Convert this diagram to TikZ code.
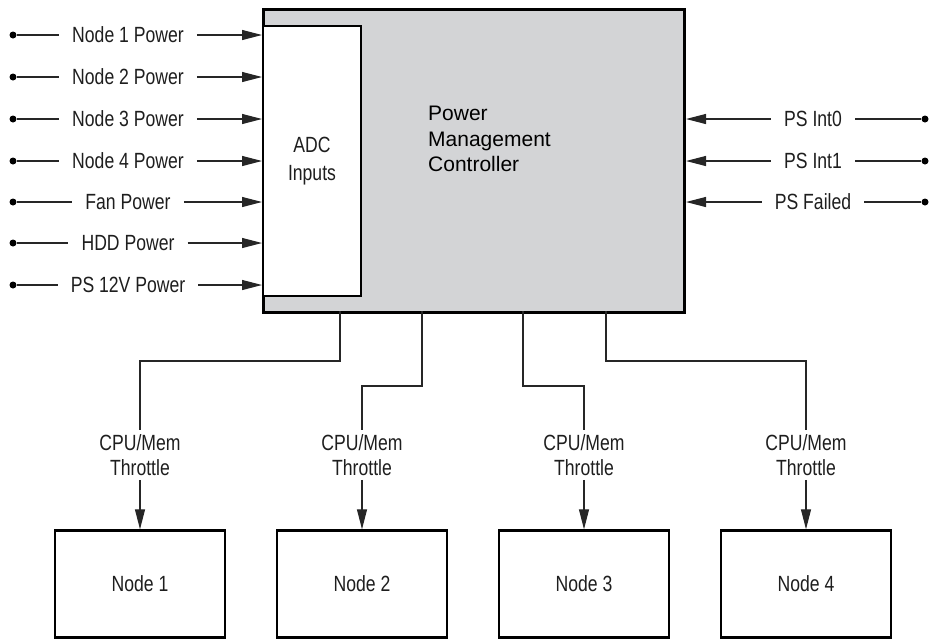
\documentclass[tikz,border=0pt]{standalone}
\usepackage{fontspec}
\setmainfont{Liberation Sans}
\newfontfamily\condfont[FakeStretch=0.8]{Liberation Sans}
\usetikzlibrary{arrows.meta,calc}
\definecolor{boxgray}{RGB}{211,212,214}
\definecolor{ink}{RGB}{30,30,30}
\tikzset{
  lbl/.style={font=\condfont\fontsize{22}{25}\selectfont, text=ink, inner xsep=13pt, inner ysep=3pt},
  dotnode/.style={circle, fill=black, inner sep=0pt, minimum size=7pt},
  conn/.style={draw=black!85, line width=1.1pt},
  arr/.style={conn, -{Triangle[length=20pt,width=10pt]}},
  nodebox/.style={draw=black, line width=2.4pt, minimum width=170pt, minimum height=107pt, fill=white,
                  font=\condfont\fontsize{22}{25}\selectfont, text=ink},
  thr/.style={font=\condfont\fontsize{22}{25}\selectfont, text=ink, align=center, inner sep=4pt}
}
\begin{document}
\begin{tikzpicture}[x=1pt,y=-1pt]
\useasboundingbox (0,0) rectangle (933,641);
% main controller
\node[draw=black, line width=3pt, fill=boxgray, minimum width=421pt, minimum height=303pt, inner sep=0pt, anchor=north west] (main) at (262,8) {};
\node[draw=black, line width=2pt, fill=white, minimum width=98pt, minimum height=270pt, inner sep=0pt, anchor=north west,
      font=\condfont\fontsize{22}{28}\selectfont, text=ink, align=center] (adc) at (262,25) {ADC\\Inputs};
\node[anchor=north west, inner sep=0pt, align=left, font=\fontsize{21}{25.5}\selectfont, text=black] (pmc) at (428,106)
  {Power\\Management\\Controller};

% left inputs
\foreach \i/\y/\t in {1/35/Node 1 Power, 2/77/Node 2 Power, 3/119/Node 3 Power, 4/161/Node 4 Power,
                      5/202/Fan Power, 6/243/HDD Power, 7/285/PS 12V Power}{
  \node[dotnode] (ld\i) at (13,\y) {};
  \node[lbl] (ll\i) at (128,\y) {\t};
  \draw[conn] (ld\i) -- (ll\i.west);
  \draw[arr] (ll\i.east) -- (main.west |- ll\i.east);
}

% right inputs
\foreach \i/\y/\t in {1/119/PS Int0, 2/161/PS Int1, 3/202/PS Failed}{
  \node[dotnode] (rd\i) at (925,\y) {};
  \node[lbl] (rl\i) at (813,\y) {\t};
  \draw[conn] (rd\i) -- (rl\i.east);
  \draw[arr] (rl\i.west) -- (main.east |- rl\i.west);
}

% bottom nodes
\foreach \i/\tx/\hy/\cx in {1/340/361/140, 2/422/386/362, 3/523/386/584, 4/606/361/806}{
  \coordinate (tap\i) at (\tx,311);
  \node[thr] (th\i) at (\cx,455) {CPU/Mem\\Throttle};
  \node[nodebox] (n\i) at (\cx,584) {Node \i};
  \draw[conn] (tap\i) -- (\tx,\hy) -| (th\i.north);
  \draw[arr] (th\i.south) -- (n\i.north);
}
\end{tikzpicture}
\end{document}
